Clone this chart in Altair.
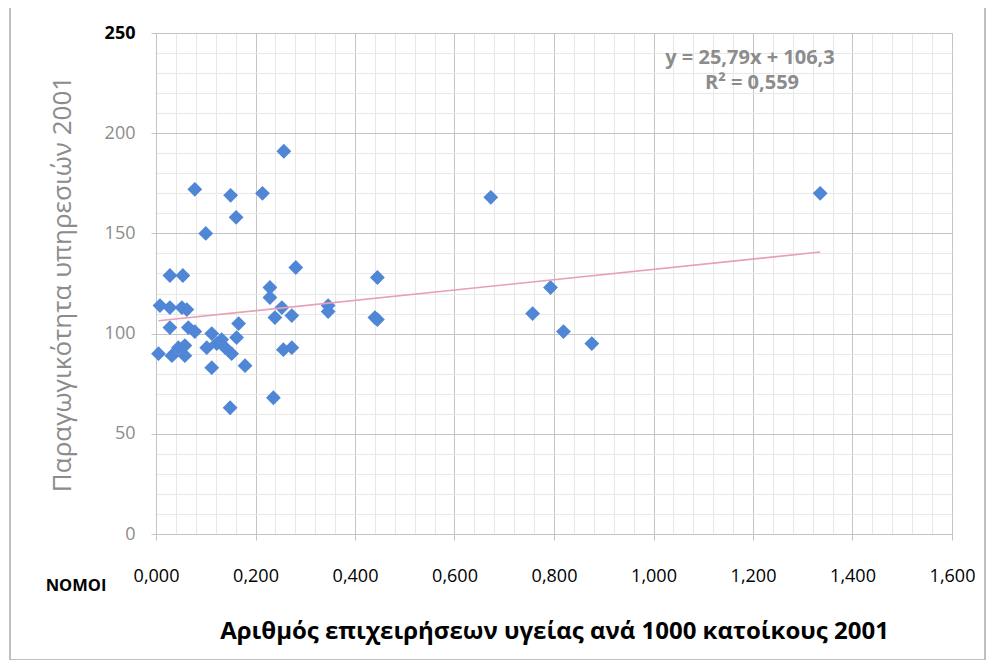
import altair as alt
import pandas as pd

# ---- data ----
x_vals = [0.078, 0.257, 0.150, 0.214, 0.161, 0.100,
          0.281, 0.028, 0.054,
          0.008, 0.028, 0.052, 0.062, 0.028, 0.065, 0.078,
          0.112, 0.166, 0.162, 0.122, 0.139, 0.152, 0.102,
          0.005, 0.032, 0.045, 0.058, 0.058, 0.112, 0.179,
          0.229, 0.229, 0.253, 0.239, 0.273, 0.256, 0.273,
          0.236, 0.149, 0.132,
          0.346, 0.346, 0.445, 0.440, 0.445,
          0.673, 1.335, 0.793, 0.757, 0.819, 0.876]
y_vals = [172, 191, 169, 170, 158, 150,
          133, 129, 129,
          114, 113, 113, 112, 103, 103, 101,
          100, 105, 98, 95, 93, 90, 93,
          90, 89, 93, 94, 89, 83, 84,
          123, 118, 113, 108, 109, 92, 93,
          68, 63, 97,
          114, 111, 128, 108, 107,
          168, 170, 123, 110, 101, 95]

trend_x = [0.005, 1.335]
trend_y = [106.4, 140.7]

x_major = [0.0, 0.2, 0.4, 0.6, 0.8, 1.0, 1.2, 1.4, 1.6]
x_minor = [round(i * 0.04, 2) for i in range(41)]
y_major = [0, 50, 100, 150, 200, 250]
y_minor = list(range(0, 251, 10))

equation = ["y = 25,79x + 106,3", "R² = 0,559"]

x_title = "Αριθμός επιχειρήσεων υγείας ανά 1000 κατοίκους 2001"
y_title = "Παραγωγικότητα υπηρεσιών 2001"

FONT = "Open Sans"
GRAY = "#8c8c8c"

df = pd.DataFrame({"x": x_vals, "y": y_vals})
tdf = pd.DataFrame({"x": trend_x, "y": trend_y})

xscale = alt.Scale(domain=[0, 1.6], nice=False, zero=False)
yscale = alt.Scale(domain=[0, 250], nice=False, zero=False)

minor = alt.Chart(df).mark_point(opacity=0).encode(
    x=alt.X("x:Q", scale=xscale,
            axis=alt.Axis(values=x_minor, grid=True, gridColor="#e8e8e8", labels=False,
                          ticks=False, domain=False, title=None, orient="bottom")),
    y=alt.Y("y:Q", scale=yscale,
            axis=alt.Axis(values=y_minor, grid=True, gridColor="#e8e8e8", labels=False,
                          ticks=False, domain=False, title=None, orient="left")),
)

points = alt.Chart(df).mark_point(shape="diamond", filled=True, size=220,
                                  color="#4F86D6", opacity=1).encode(
    x=alt.X("x:Q", scale=xscale,
            axis=alt.Axis(values=x_major, grid=True, gridColor="#c4c4c4", orient="bottom",
                          labelExpr="replace(format(datum.value, '.3f'), '.', ',')",
                          labelFont=FONT, labelFontSize=18, labelColor="black",
                          labelFlush=False, labelPadding=27, tickSize=6,
                          tickColor="#c4c4c4", domainColor="#c4c4c4",
                          title=x_title, titleFont=FONT, titleFontSize=24,
                          titleFontWeight="bold", titleColor="black",
                          titleY=104, titleBaseline="alphabetic")),
    y=alt.Y("y:Q", scale=yscale,
            axis=alt.Axis(values=y_major, grid=True, gridColor="#c4c4c4", orient="left",
                          labelFont=FONT, labelFontSize=18, labelFlush=False,
                          labelColor=alt.expr(f"datum.value == 250 ? 'black' : '{GRAY}'"),
                          labelFontWeight=alt.expr("datum.value == 250 ? 'bold' : 'normal'"),
                          labelPadding=16, tickSize=5, tickColor="#c4c4c4",
                          domainColor="#c4c4c4",
                          title=y_title, titleFont=FONT, titleFontSize=26,
                          titleFontWeight="normal", titleColor=GRAY,
                          titleX=-94, titleBaseline="middle")),
)

trend = alt.Chart(tdf).mark_line(color="#e8a0b4", strokeWidth=1.6).encode(
    x=alt.X("x:Q", scale=xscale, axis=None),
    y=alt.Y("y:Q", scale=yscale, axis=None),
)

eq_df = pd.DataFrame({"t": equation, "row": [0, 1]})
eq1 = alt.Chart(eq_df[eq_df.row == 0]).mark_text(
    font=FONT, fontSize=20, fontWeight="bold", color=GRAY, align="center", baseline="middle"
).encode(x=alt.value(594), y=alt.value(25), text="t:N")
eq2 = alt.Chart(eq_df[eq_df.row == 1]).mark_text(
    font=FONT, fontSize=20, fontWeight="bold", color=GRAY, align="center", baseline="middle"
).encode(x=alt.value(596), y=alt.value(50), text="t:N")

nomoi = alt.Chart(pd.DataFrame({"t": ["NOMOI"]})).mark_text(
    font=FONT, fontSize=16.5, fontWeight="bold", color="black", align="center", baseline="middle"
).encode(x=alt.value(-80), y=alt.value(553), text="t:N")

frame = alt.Chart(pd.DataFrame({"a": [0]})).mark_rect(
    fillOpacity=0, stroke="#bfbfbf", strokeWidth=2, clip=False
).encode(x=alt.value(-146), x2=alt.value(829), y=alt.value(-26), y2=alt.value(627))

chart = alt.layer(minor, points, trend, eq1, eq2, nomoi, frame).resolve_axis(
    x="independent", y="independent"
).properties(
    width=796, height=501,
    autosize=alt.AutoSizeParams(type="none"),
    padding={"left": 148, "top": 25, "right": 35, "bottom": 126},
).configure_view(stroke="#d0d0d0").configure(background="white")

chart.save("out.html", embed_options={"renderer": "svg", "actions": False})
